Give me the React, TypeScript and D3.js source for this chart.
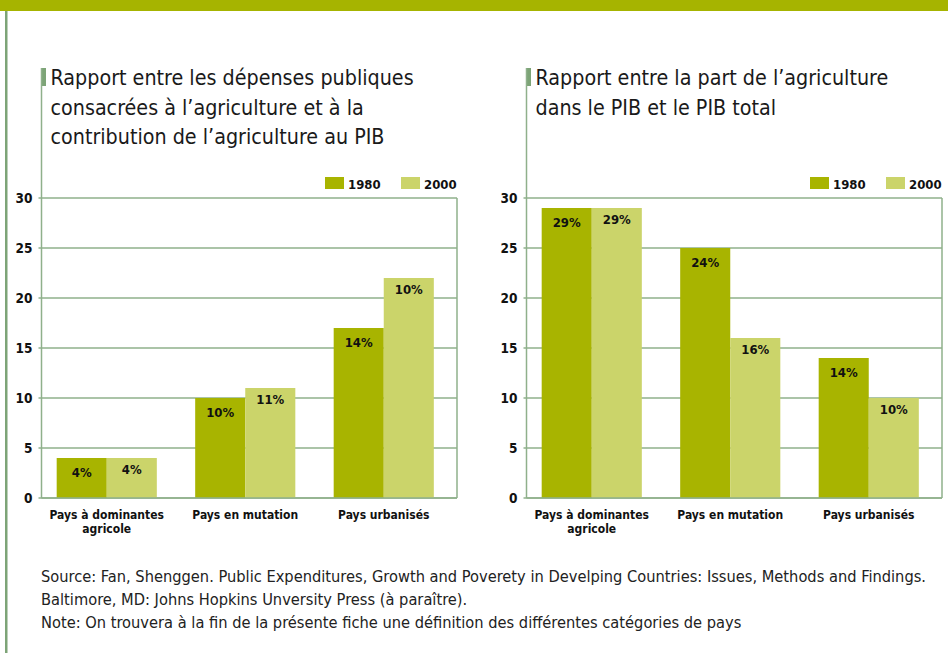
import * as d3 from "d3"

const series = ["1980", "2000"]
const categories = [["Pays à dominantes", "agricole"], ["Pays en mutation"], ["Pays urbanisés"]]
const yTicks = [0, 5, 10, 15, 20, 25, 30]

// left panel: dépenses publiques / contribution au PIB
const depTitle = [
  "Rapport entre les dépenses publiques",
  "consacrées à l’agriculture et à la",
  "contribution de l’agriculture au PIB",
]
const dep1980 = [4, 10, 17]
const dep2000 = [4, 11, 22]
const depLabels1980 = ["4%", "10%", "14%"]
const depLabels2000 = ["4%", "11%", "10%"]

// right panel: part de l'agriculture dans le PIB
const pibTitle = ["Rapport entre la part de l’agriculture", "dans le PIB et le PIB total"]
const pib1980 = [29, 25, 14]
const pib2000 = [29, 16, 10]
const pibLabels1980 = ["29%", "24%", "14%"]
const pibLabels2000 = ["29%", "16%", "10%"]

const sourceLines = [
  "Source: Fan, Shenggen. Public Expenditures, Growth and Poverety in Develping Countries: Issues, Methods and Findings.",
  "Baltimore, MD: Johns Hopkins Unversity Press (à paraître).",
  "Note: On trouvera à la fin de la présente fiche une définition des différentes catégories de pays",
]

const colors: Record<string, string> = { "1980": "#a8b400", "2000": "#cbd46a" }
const gridColor = "#8fb08b"
const frameColor = "#7da477"
const font = "'DejaVu Sans Condensed', 'Liberation Sans Narrow', sans-serif"

const top = 198
const bottom = 498

type PanelProps = {
  axisX: number
  rightX: number
  title: string[]
  v1980: number[]
  v2000: number[]
  l1980: string[]
  l2000: string[]
}

const Panel = ({ axisX, rightX, title, v1980, v2000, l1980, l2000 }: PanelProps) => {
  const y = d3.scaleLinear().domain([0, 30]).range([bottom, top])
  const x0 = d3
    .scaleBand<number>()
    .domain(d3.range(categories.length))
    .range([axisX - 4, rightX - 4])
    .paddingInner(0.277)
    .paddingOuter(0.1385)
  const x1 = d3.scaleBand().domain(series).range([0, x0.bandwidth()])
  const vals: Record<string, number[]> = { "1980": v1980, "2000": v2000 }
  const labs: Record<string, string[]> = { "1980": l1980, "2000": l2000 }
  const legendX = rightX - 132

  return (
    <g>
      {/* title */}
      <rect x={axisX - 0.5} y={68} width={5} height={18} fill={frameColor} />
      <line x1={axisX} x2={axisX} y1={68} y2={bottom} stroke={gridColor} strokeWidth={1.5} />
      {title.map((t, i) => (
        <text key={i} x={axisX + 9} y={85 + i * 29.5} fontSize={21.3} fill="#1a1a1a" fontFamily={font} fontWeight={300}>
          {t}
        </text>
      ))}

      {/* legend */}
      {series.map((s, i) => (
        <g key={s} transform={`translate(${legendX + i * 76},177)`}>
          <rect width={19} height={12} fill={colors[s]} />
          <text x={23} y={12} fontSize={13} fontWeight="bold" fontFamily={font} fill="#111">
            {s}
          </text>
        </g>
      ))}

      {/* grid + axes */}
      {yTicks.map((t) => (
        <g key={t}>
          <line x1={axisX - 3} x2={rightX} y1={y(t)} y2={y(t)} stroke={gridColor} strokeWidth={1.5} />
          <text x={axisX - 9} y={y(t) + 5} textAnchor="end" fontSize={13.5} fontWeight="bold" fontFamily={font} fill="#111">
            {t}
          </text>
        </g>
      ))}
      <line x1={rightX} x2={rightX} y1={top} y2={bottom} stroke={gridColor} strokeWidth={1.5} />

      {/* bars */}
      {categories.map((_, ci) =>
        series.map((s) => {
          const v = vals[s][ci]
          const bx = (x0(ci) || 0) + (x1(s) || 0)
          return (
            <g key={`${ci}-${s}`}>
              <rect x={bx} y={y(v)} width={x1.bandwidth()} height={y(0) - y(v)} fill={colors[s]} />
              <text
                x={bx + x1.bandwidth() / 2}
                y={y(v) + (s === "1980" ? 19 : 16)}
                textAnchor="middle"
                fontSize={13}
                fontWeight="bold"
                fontFamily={font}
                fill="#111"
              >
                {labs[s][ci]}
              </text>
            </g>
          )
        })
      )}
      <line x1={axisX} x2={rightX} y1={bottom} y2={bottom} stroke={gridColor} strokeWidth={1.5} />

      {/* category labels */}
      {categories.map((lines, ci) =>
        lines.map((l, li) => (
          <text
            key={`${ci}-${li}`}
            x={(x0(ci) || 0) + x0.bandwidth() / 2}
            y={519 + li * 14}
            textAnchor="middle"
            fontSize={12}
            fontWeight="bold"
            fontFamily={font}
            fill="#111"
          >
            {l}
          </text>
        ))
      )}
    </g>
  )
}

export default function App() {
  return (
    <svg
      width={948}
      height={653}
      style={{ position: "absolute", left: 0, top: 0, background: "#fff" }}
    >
      <rect x={0} y={0} width={948} height={11} fill="#a6b400" />
      <rect x={5} y={11} width={2.5} height={642} fill={frameColor} />

      <Panel axisX={41.5} rightX={457} title={depTitle} v1980={dep1980} v2000={dep2000} l1980={depLabels1980} l2000={depLabels2000} />
      <Panel axisX={526.5} rightX={942} title={pibTitle} v1980={pib1980} v2000={pib2000} l1980={pibLabels1980} l2000={pibLabels2000} />

      {sourceLines.map((l, i) => (
        <text key={i} x={41} y={582 + i * 23} fontSize={16.3} fill="#222" fontFamily={font} fontWeight={300}>
          {l}
        </text>
      ))}
    </svg>
  )
}
